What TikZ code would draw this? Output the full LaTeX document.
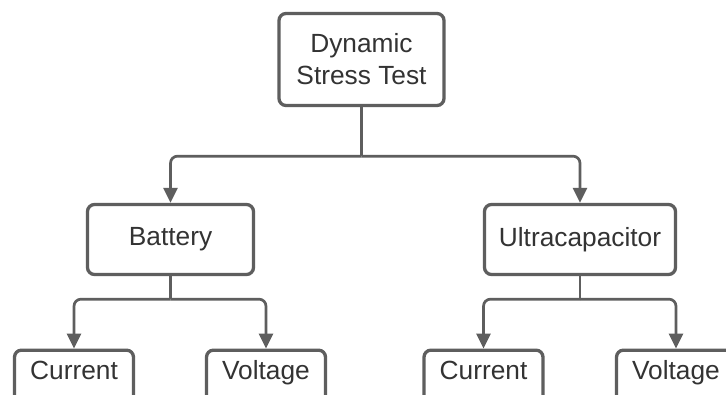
\documentclass[tikz,border=0pt]{standalone}
\usepackage{fontspec}
\setmainfont{Liberation Sans}
\usetikzlibrary{arrows.meta,calc}
\definecolor{linecol}{RGB}{94,94,94}
\definecolor{textcol}{RGB}{51,51,51}
\begin{document}
\begin{tikzpicture}[x=1pt,y=-1pt,
  box/.style={draw=linecol,line width=3.3pt,rounded corners=7pt,fill=white,
    text=textcol,font=\fontsize{26.3}{32}\selectfont,align=center,inner sep=0pt},
  leafbox/.style={box,anchor=north,minimum width=119pt,inner ysep=10pt,
    text height=19.5pt,text depth=22pt},
  conn/.style={draw=linecol,line width=2.7pt,rounded corners=7pt},
  arr/.style={conn,-{Triangle[length=15pt,width=14pt]}}]
\clip (0,0) rectangle (726,394);
\fill[white] (0,0) rectangle (726,394);
% nodes
\node[box,minimum width=165pt,minimum height=92pt] (top) at (361.5,59.5) {Dynamic\\Stress Test};
\node[box,minimum width=166pt,minimum height=70pt] (bat) at (170.5,239.5) {Battery};
\node[box,minimum width=191pt,minimum height=70pt] (ult) at (580,239.5) {Ultracapacitor};
\node[leafbox] (bc) at (74,348.5) {Current};
\node[leafbox] (bv) at (266,348.5) {Voltage};
\node[leafbox] (uc) at (483.5,348.5) {Current};
\node[leafbox] (uv) at (676,348.5) {Voltage};
% junctions
\coordinate (j1) at ($(top.south)+(0,49)$);
\coordinate (j2) at ($(bat.south)+(0,23)$);
\coordinate (j3) at ($(ult.south)+(0,23)$);
% connectors
\draw[conn] (top.south) -- (j1);
\draw[arr] (j1) -| (bat.north);
\draw[arr] (j1) -| (ult.north);
\draw[conn] (bat.south) -- (j2);
\draw[arr] (j2) -| (bc.north);
\draw[arr] (j2) -| (bv.north);
\draw[conn] (ult.south) -- (j3);
\draw[arr] (j3) -| (uc.north);
\draw[arr] (j3) -| (uv.north);
\end{tikzpicture}
\end{document}
